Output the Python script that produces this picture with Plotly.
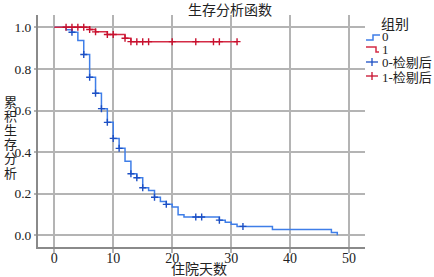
import plotly.graph_objects as go

# ---- data ----
t0 = [0, 2, 3, 4, 5, 6, 7, 8, 9, 10, 11, 12, 13, 14, 15, 16, 17, 18, 19, 20, 21, 22, 28, 29, 30, 31, 37, 47, 48]
s0 = [1.0, 0.988, 0.976, 0.937, 0.869, 0.760, 0.683, 0.609, 0.543, 0.466, 0.418, 0.356, 0.296, 0.277, 0.229,
      0.215, 0.183, 0.163, 0.149, 0.136, 0.099, 0.088, 0.073, 0.063, 0.053, 0.043, 0.028, 0.014, 0.0]
c0_t = [3, 5, 6, 7, 8, 9, 10, 11, 13, 14, 15, 17, 19, 24, 25, 28, 32]
c0_s = [0.976, 0.869, 0.760, 0.683, 0.609, 0.543, 0.466, 0.418, 0.296, 0.277, 0.229, 0.183, 0.149, 0.088, 0.088, 0.073, 0.043]

t1 = [0, 6, 7, 9, 12, 13, 31]
s1 = [1.0, 0.989, 0.978, 0.965, 0.947, 0.931, 0.931]
c1_t = [2, 3, 4, 5, 6, 7, 9, 10, 12, 13, 14, 15, 16, 20, 24, 27, 28, 31]
c1_s = [1.0, 1.0, 1.0, 1.0, 0.989, 0.978, 0.965, 0.965, 0.947, 0.931, 0.931, 0.931, 0.931, 0.931, 0.931, 0.931, 0.931, 0.931]

names = ["0", "1", "0-检剔后", "1-检剔后"]
legend_title = "组别"
x_ticks = [0, 10, 20, 30, 40, 50]
y_ticks = [0.0, 0.2, 0.4, 0.6, 0.8, 1.0]
y_tick_text = ["0.0", "0.2", "0.4", "0.6", "0.8", "1.0"]
title = "生存分析函数"
x_title = "住院天数"
y_title = "累积生存分析"

FONT = "'Liberation Serif', 'Noto Sans CJK SC', serif"
TXT = "#222222"
BLUE = "#3f7ee8"
BLUE_D = "#1c4fc4"
RED = "#d42b45"
RED_D = "#c8102e"

W, H = 434, 277
L, R, T, B = 38, 365, 15, 247


def px_x(p):
    return (p - L) / (R - L)


def px_y(p):
    return (B - p) / (B - T)


fig = go.Figure()
fig.add_trace(go.Scatter(x=t0, y=s0, mode="lines", line=dict(shape="hv", color=BLUE, width=1.5), name=names[0]))
fig.add_trace(go.Scatter(x=t1, y=s1, mode="lines", line=dict(shape="hv", color=RED, width=1.5), name=names[1]))
fig.add_trace(go.Scatter(x=c0_t, y=c0_s, mode="markers",
                         marker=dict(symbol="cross-thin", size=5, color=BLUE_D, line=dict(color=BLUE_D, width=1.4)),
                         name=names[2]))
fig.add_trace(go.Scatter(x=c1_t, y=c1_s, mode="markers",
                         marker=dict(symbol="cross-thin", size=5, color=RED_D, line=dict(color=RED_D, width=1.4)),
                         name=names[3]))

annotations = [
    dict(text=x_title, xref="paper", yref="paper", x=px_x(199), y=px_y(269.5), showarrow=False,
         xanchor="center", yanchor="middle", font=dict(family=FONT, size=14, color=TXT)),
    dict(text=legend_title, xref="paper", yref="paper", x=px_x(379), y=px_y(24.5), showarrow=False,
         xanchor="left", yanchor="middle", font=dict(family=FONT, size=14, color=TXT)),
]
for i, ch in enumerate(y_title):
    annotations.append(dict(text=ch, xref="paper", yref="paper", x=px_x(10), y=px_y(102 + i * 14.2),
                            showarrow=False, xanchor="center", yanchor="middle",
                            font=dict(family=FONT, size=13, color=TXT)))

# legend (drawn as text + small icons to match the reference's compact legend)
leg_y = [36, 49.5, 63, 77]
for name, yy in zip(names, leg_y):
    annotations.append(dict(text=name, xref="paper", yref="paper", x=px_x(380), y=px_y(yy), showarrow=False,
                            xanchor="left", yanchor="middle", font=dict(family=FONT, size=13, color=TXT)))

shapes = []
# step icons
shapes.append(dict(type="path", xref="paper", yref="paper", line=dict(color=BLUE, width=1.5),
                   path="M {a},{b} L {c},{b} L {c},{d} L {e},{d}".format(
                       a=px_x(366), b=px_y(40), c=px_x(373), d=px_y(35), e=px_x(380))))
shapes.append(dict(type="path", xref="paper", yref="paper", line=dict(color=RED, width=1.5),
                   path="M {a},{b} L {c},{b} L {c},{d} L {e},{d}".format(
                       a=px_x(366), b=px_y(47), c=px_x(376), d=px_y(52), e=px_x(379))))
# plus icons
for yy, col in [(leg_y[2] - 1, BLUE_D), (leg_y[3] - 1, RED_D)]:
    shapes.append(dict(type="line", xref="paper", yref="paper", x0=px_x(366), x1=px_x(378),
                       y0=px_y(yy), y1=px_y(yy), line=dict(color=col, width=1.3)))
    shapes.append(dict(type="line", xref="paper", yref="paper", x0=px_x(372), x1=px_x(372),
                       y0=px_y(yy - 4), y1=px_y(yy + 4), line=dict(color=col, width=1.3)))

fig.update_layout(
    width=W, height=H,
    margin=dict(l=L, r=W - R, t=T, b=H - B, autoexpand=False),
    paper_bgcolor="white", plot_bgcolor="white",
    font=dict(family=FONT, size=13, color=TXT),
    title=dict(text=title, x=230 / W, xref="container", xanchor="center", y=1 - 10 / H, yref="container",
               yanchor="middle", font=dict(family=FONT, size=14, color=TXT)),
    xaxis=dict(range=[-2.76, 52.7], tickvals=x_ticks, showgrid=True, gridcolor="#b4b4b4", gridwidth=1.5,
               showline=True, linecolor="#8a8a8a", linewidth=2, ticks="outside", ticklen=4, tickcolor="#b4b4b4",
               tickwidth=1.5, zeroline=False, automargin=False, ticklabelstandoff=-7,
               tickfont=dict(family=FONT, size=14, color=TXT)),
    yaxis=dict(range=[-0.056, 1.059], tickvals=y_ticks, ticktext=y_tick_text, showgrid=True, gridcolor="#b4b4b4",
               gridwidth=1.5, showline=True, linecolor="#8a8a8a", linewidth=2, ticks="outside", ticklen=2,
               tickcolor="#b4b4b4", tickwidth=1.5, zeroline=False, automargin=False,
               tickfont=dict(family=FONT, size=13.5, color=TXT)),
    showlegend=False,
    annotations=annotations,
    shapes=shapes,
)

fig.write_html("out.html", config={"displayModeBar": False},
               post_script="document.body.style.margin='0px';document.body.style.padding='0px';")
